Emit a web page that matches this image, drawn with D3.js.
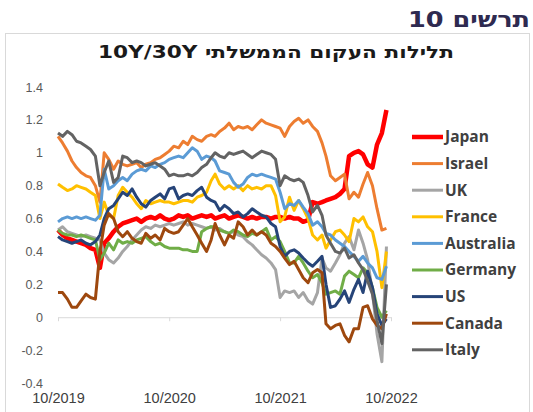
<!DOCTYPE html>
<html>
<head>
<meta charset="utf-8">
<script src="https://cdn.jsdelivr.net/npm/d3@7"></script>
<style>
  body { margin: 0; background: #fff; }
  svg { display: block; }
</style>
</head>
<body>
<svg id="chart" width="533" height="412"></svg>
<script>
// semi-monthly observations, Oct 2019 .. Sep 2022
const dates = d3.range(72).map(i => new Date(2019, 9 + Math.floor(i / 2), i % 2 ? 16 : 1));

const countries = ['Japan', 'Israel', 'UK', 'France', 'Australia', 'Germany', 'US', 'Canada', 'Italy'];

const japan = [0.53,0.50,0.48,0.47,0.46,0.45,0.44,0.42,0.41,0.30, 0.45,0.48,0.52,0.55,0.57,0.58,0.59,0.60,0.58,0.60,
  0.61,0.60,0.62,0.60,0.59,0.60,0.62,0.61,0.62,0.60, 0.61,0.62,0.61,0.62,0.60,0.61,0.62,0.60,0.61,0.62,
  0.61,0.60,0.61,0.60,0.61,0.61,0.60,0.61,0.61,0.60, 0.61,0.60,0.60,0.58,0.59,0.70,0.69,0.70,0.71,0.72,
  0.73,0.75,0.78,0.98,1.00,1.01,0.99,0.93,0.91,1.05,1.12,1.26];
const israel = [1.10,1.06,1.01,0.95,0.91,0.88,0.86,0.85,0.80,0.70, 1.00,0.96,0.90,0.95,0.93,0.92,0.93,0.94,0.91,0.93,
  0.94,0.96,0.97,0.99,1.01,1.04,1.03,1.07,1.05,1.10, 1.08,1.07,1.10,1.11,1.10,1.13,1.15,1.18,1.14,1.16,
  1.15,1.16,1.14,1.17,1.20,1.18,1.17,1.16,1.15,1.10, 1.16,1.19,1.21,1.18,1.20,1.16,1.13,1.06,0.98,0.86,
  0.83,0.85,0.87,0.72,0.76,0.73,0.81,0.88,0.80,0.66,0.53,0.54];
const uk = [0.53,0.55,0.52,0.51,0.50,0.49,0.50,0.49,0.48,0.47, 0.39,0.35,0.33,0.36,0.40,0.43,0.47,0.50,0.53,0.55,
  0.54,0.56,0.55,0.56,0.57,0.56,0.57,0.58,0.56,0.57, 0.56,0.55,0.54,0.55,0.53,0.54,0.52,0.51,0.52,0.50,
  0.49,0.46,0.44,0.41,0.38,0.36,0.33,0.29,0.12,0.16, 0.15,0.16,0.12,0.15,0.10,0.08,0.15,0.36,0.30,0.28,
  0.33,0.38,0.45,0.49,0.41,0.53,0.45,0.35,0.15,-0.10,-0.27,0.43];
const france = [0.81,0.79,0.77,0.78,0.80,0.79,0.78,0.76,0.74,0.60, 0.70,0.62,0.60,0.74,0.79,0.76,0.73,0.69,0.66,0.71,
  0.69,0.70,0.71,0.70,0.70,0.69,0.70,0.71,0.71,0.70, 0.73,0.74,0.76,0.83,0.87,0.81,0.78,0.80,0.78,0.80,
  0.77,0.80,0.78,0.79,0.78,0.80,0.80,0.74,0.58,0.61, 0.73,0.65,0.71,0.66,0.60,0.50,0.47,0.50,0.42,0.47,
  0.52,0.53,0.50,0.46,0.60,0.58,0.61,0.55,0.52,0.40,0.18,0.40];
const australia = [0.58,0.60,0.61,0.60,0.61,0.60,0.61,0.60,0.59,0.62, 0.90,0.78,0.80,0.83,0.85,0.83,0.87,0.89,0.90,0.89,
  0.92,0.91,0.93,0.94,0.96,0.97,0.98,0.97,1.00,1.03, 1.01,0.96,0.98,0.97,0.95,0.89,0.88,0.87,0.82,0.79,
  0.81,0.85,0.87,0.86,0.87,0.86,0.85,0.84,0.76,0.66, 0.69,0.68,0.71,0.67,0.63,0.56,0.58,0.55,0.51,0.50,
  0.47,0.45,0.43,0.40,0.37,0.34,0.37,0.33,0.30,0.24,0.23,0.31];
const germany = [0.53,0.51,0.50,0.50,0.49,0.50,0.49,0.48,0.47,0.35, 0.39,0.45,0.41,0.47,0.45,0.46,0.45,0.47,0.48,0.49,
  0.46,0.44,0.45,0.43,0.42,0.42,0.42,0.41,0.41,0.40, 0.40,0.52,0.54,0.55,0.55,0.53,0.52,0.51,0.53,0.52,
  0.50,0.49,0.51,0.50,0.52,0.54,0.47,0.49,0.46,0.40, 0.33,0.33,0.37,0.33,0.28,0.24,0.26,0.21,0.14,0.15,
  0.16,0.14,0.25,0.28,0.26,0.24,0.30,0.27,0.18,0.06,0.00,0.04];
const us = [0.49,0.47,0.46,0.45,0.46,0.47,0.45,0.44,0.46,0.50, 0.60,0.66,0.68,0.72,0.76,0.74,0.78,0.73,0.69,0.67,
  0.71,0.73,0.75,0.72,0.78,0.79,0.72,0.74,0.75,0.74, 0.77,0.79,0.73,0.71,0.70,0.65,0.68,0.66,0.63,0.64,
  0.61,0.63,0.66,0.64,0.62,0.61,0.57,0.55,0.43,0.37, 0.40,0.41,0.39,0.36,0.33,0.31,0.34,0.37,0.20,0.06,
  0.07,0.11,0.16,0.09,0.17,0.23,0.15,0.28,0.18,0.02,-0.05,-0.01];
const canada = [0.15,0.15,0.11,0.06,0.06,0.10,0.14,0.12,0.11,0.40, 0.56,0.63,0.60,0.52,0.49,0.52,0.48,0.46,0.45,0.51,
  0.48,0.50,0.47,0.54,0.52,0.51,0.52,0.56,0.60,0.55, 0.50,0.45,0.40,0.47,0.57,0.50,0.44,0.50,0.48,0.58,
  0.55,0.50,0.53,0.50,0.52,0.50,0.45,0.43,0.40,0.36, 0.32,0.34,0.29,0.24,0.21,0.27,0.29,0.27,-0.04,-0.07,
  -0.05,-0.04,-0.11,-0.15,-0.07,-0.07,0.06,0.07,-0.01,-0.05,-0.07,0.02];
const italy = [1.12,1.10,1.13,1.11,1.07,1.06,1.04,1.02,0.98,0.80, 0.88,0.95,0.82,0.85,0.98,0.97,0.94,0.95,0.94,0.92,
  0.93,0.94,0.92,0.90,0.86,0.87,0.86,0.86,0.87,0.86, 0.88,0.91,0.93,0.97,1.00,0.98,0.97,1.00,0.99,1.00,
  1.01,0.99,0.97,0.99,1.01,1.00,0.99,0.96,0.80,0.86, 0.84,0.83,0.84,0.82,0.74,0.64,0.68,0.62,0.50,0.45,
  0.40,0.39,0.42,0.36,0.38,0.33,0.29,0.22,0.14,-0.02,-0.16,0.20];

const seriesValues = [japan, israel, uk, france, australia, germany, us, canada, italy];

const xTickDates = [new Date(2019, 9, 1), new Date(2020, 9, 1), new Date(2021, 9, 1), new Date(2022, 9, 1)];
const xTickLabels = ['10/2019', '10/2020', '10/2021', '10/2022'];
const yTicks = [-0.4, -0.2, 0, 0.2, 0.4, 0.6, 0.8, 1, 1.2, 1.4];

const chartNumber = 'תרשים 10';
const chartTitle = 'תלילות העקום הממשלתי 10Y/30Y';

// styles
const colors = ['#ff0000', '#ed7d31', '#a5a5a5', '#ffc000', '#5b9bd5', '#70ad47', '#264478', '#9e480e', '#636363'];
const tickFont = '"Liberation Sans", Arial, sans-serif';
const hebrewFont = '"DejaVu Sans", sans-serif';

const svg = d3.select('#chart');

// outer frame
svg.append('rect')
  .attr('x', 5.5)
  .attr('y', 33.5)
  .attr('width', 524)
  .attr('height', 390)
  .attr('fill', 'none')
  .attr('stroke', '#d9d9d9');

svg.append('text')
  .attr('x', 530)
  .attr('y', 27)
  .attr('direction', 'rtl')
  .attr('text-anchor', 'start')
  .attr('font-family', hebrewFont)
  .attr('font-weight', 'bold')
  .attr('font-size', 22)
  .attr('textLength', 122)
  .attr('lengthAdjust', 'spacingAndGlyphs')
  .attr('fill', '#2e2a50')
  .text(chartNumber);

svg.append('text')
  .attr('x', 276)
  .attr('y', 58)
  .attr('direction', 'rtl')
  .attr('text-anchor', 'middle')
  .attr('font-family', hebrewFont)
  .attr('font-weight', 'bold')
  .attr('font-size', 17)
  .attr('textLength', 356)
  .attr('lengthAdjust', 'spacingAndGlyphs')
  .attr('fill', '#1a1a1a')
  .text(chartTitle);

const x = d3.scaleTime()
  .domain([new Date(2019, 9, 1), new Date(2022, 9, 1)])
  .range([58, 391]);

const y = d3.scaleLinear()
  .domain([-0.4, 1.4])
  .range([383, 87]);

// zero line with tick marks
svg.append('g')
  .attr('transform', `translate(0,${y(0)})`)
  .call(d3.axisBottom(x).tickValues(xTickDates).tickFormat(() => '').tickSize(4).tickSizeOuter(0))
  .call(g => g.selectAll('.domain, .tick line').attr('stroke', '#d9d9d9'));

// date labels sit at the bottom of the plot
svg.append('g')
  .attr('transform', `translate(0,${y(-0.4)})`)
  .call(d3.axisBottom(x).tickValues(xTickDates).tickFormat((d, i) => xTickLabels[i]).tickSize(0).tickPadding(10))
  .call(g => g.select('.domain').remove())
  .call(g => g.selectAll('text')
    .attr('font-family', tickFont)
    .attr('font-size', 14.5)
    .attr('fill', '#404040'));

svg.append('g')
  .attr('transform', 'translate(43,0)')
  .call(d3.axisLeft(y).tickValues(yTicks).tickSize(0).tickPadding(0).tickFormat(d => String(+d.toFixed(1))))
  .call(g => g.select('.domain').remove())
  .call(g => g.selectAll('text')
    .attr('font-family', tickFont)
    .attr('font-size', 12.5)
    .attr('fill', '#595959'));

const line = d3.line()
  .x((d, i) => x(dates[i]))
  .y(d => y(d));

svg.append('g')
  .selectAll('path')
  .data(seriesValues)
  .join('path')
  .attr('fill', 'none')
  .attr('stroke', (d, i) => colors[i])
  .attr('stroke-width', (d, i) => i === 0 ? 4.5 : 3)
  .attr('stroke-linejoin', 'round')
  .attr('d', line);

// legend
const legend = svg.append('g')
  .selectAll('g')
  .data(countries)
  .join('g')
  .attr('transform', (d, i) => `translate(412,${137 + i * 26.6})`);

legend.append('line')
  .attr('x1', 0)
  .attr('x2', 31)
  .attr('stroke', (d, i) => colors[i])
  .attr('stroke-width', (d, i) => i === 0 ? 4.5 : 3);

legend.append('text')
  .attr('x', 33)
  .attr('dy', '0.35em')
  .attr('font-family', '"Open Sans", sans-serif')
  .attr('font-weight', 'bold')
  .attr('font-size', 15.5)
  .attr('fill', '#404040')
  .text(d => d);
</script>
</body>
</html>
